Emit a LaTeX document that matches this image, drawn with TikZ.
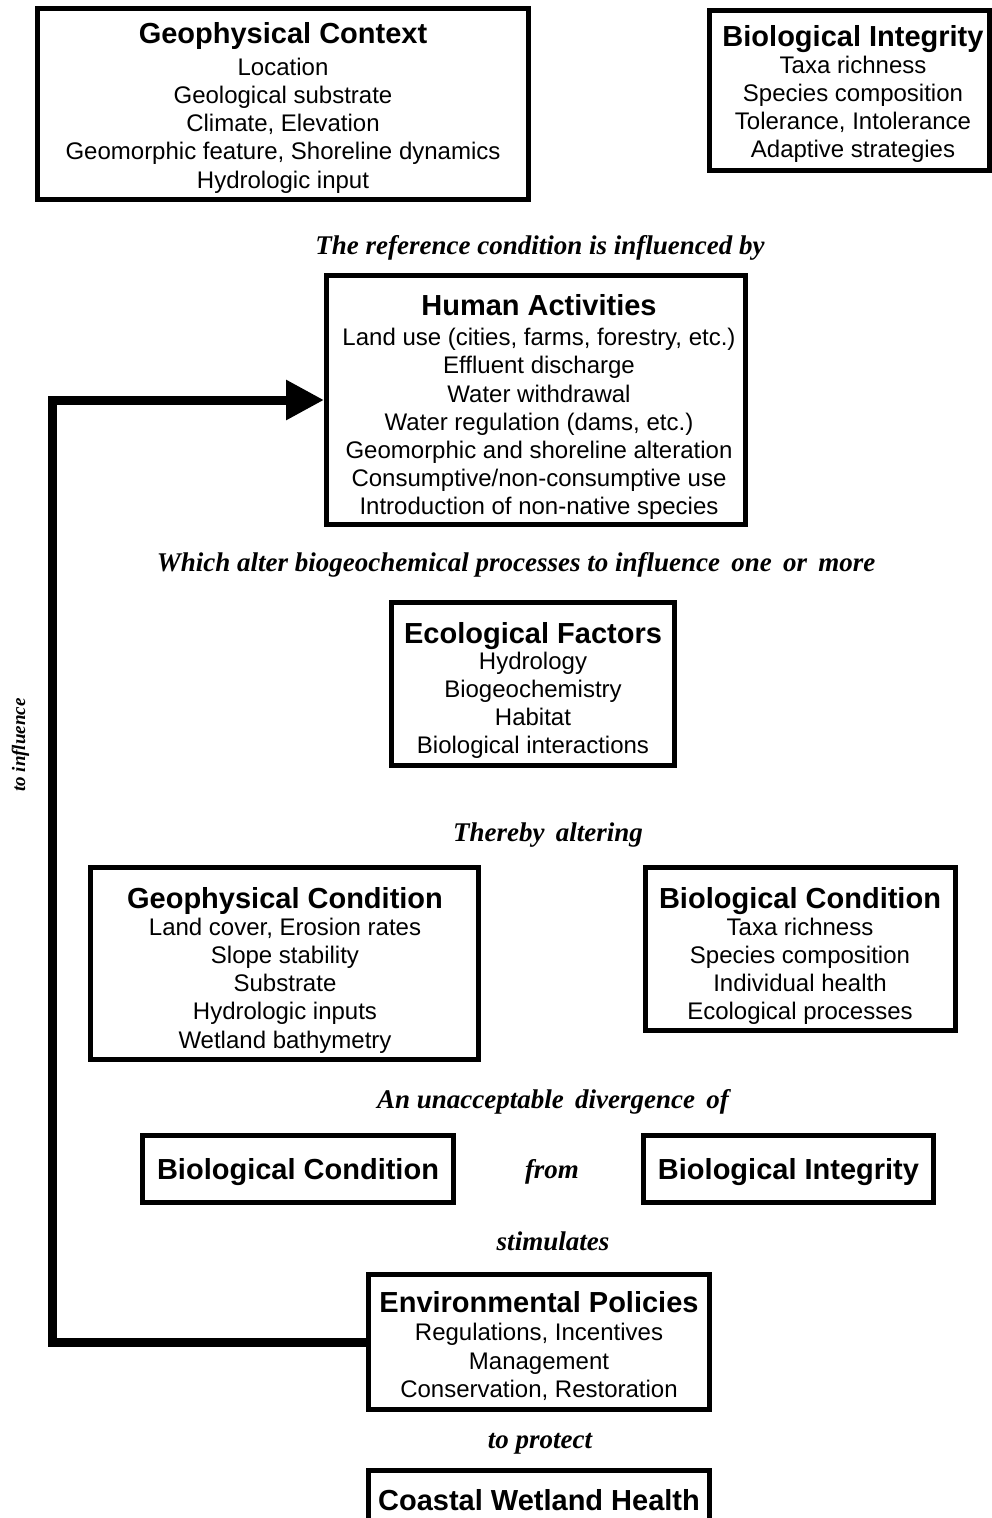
\documentclass[tikz,border=0pt]{standalone}
\usepackage{fontspec}
\setmainfont{Liberation Sans}
\newfontfamily\labfont{Liberation Serif}
\usetikzlibrary{arrows.meta}
\newcommand{\ttl}[1]{{\fontsize{29}{33}\selectfont\bfseries #1}}
\begin{document}
\begin{tikzpicture}[x=1pt,y=-1pt,
  box/.style={draw=black, line width=5pt, inner sep=0pt, fill=white},
  boxtext/.style={anchor=north, inner sep=0pt, align=center, font=\fontsize{24}{28.2}\selectfont},
  smalltext/.style={font=\fontsize{29}{33}\selectfont\bfseries, text depth=0pt},
  lab/.style={anchor=base, inner sep=0pt, font=\labfont\bfseries\itshape\fontsize{27}{30}\selectfont},
  flow/.style={line width=9pt, line join=miter}
]
\useasboundingbox[fill=white] (0,0) rectangle (992,1518);

% Geophysical Context
\node[box, minimum width=491pt, minimum height=191pt] (gctx) at (283,104) {};
\node[boxtext] (gctxt) at (283,22) {\ttl{Geophysical Context}\\[3.8pt]
  Location\\ Geological substrate\\ Climate, Elevation\\
  Geomorphic feature, Shoreline dynamics\\ Hydrologic input};

% Biological Integrity
\node[box, minimum width=280pt, minimum height=160pt] (bint) at (849.5,90.5) {};
\node[boxtext] (bintt) at (853,25) {\ttl{Biological Integrity}\\[-1.2pt]
  Taxa richness\\ Species composition\\ Tolerance, Intolerance\\ Adaptive strategies};

\node[lab] (l1) at (540,254) {The reference condition is influenced by};

% Human Activities
\node[box, minimum width=419pt, minimum height=249pt] (ha) at (536,400) {};
\node[boxtext] (hat) at (539,294.5) {\ttl{Human Activities}\\[1.8pt]
  Land use (cities, farms, forestry, etc.)\\ Effluent discharge\\ Water withdrawal\\
  Water regulation (dams, etc.)\\ Geomorphic and shoreline alteration\\
  Consumptive/non-consumptive use\\ Introduction of non-native species};

\node[lab] (l2) at (516,571) {Which alter biogeochemical processes to influence\, one\, or\, more};

% Ecological Factors
\node[box, minimum width=283pt, minimum height=163pt] (eco) at (533,684) {};
\node[boxtext] (ecot) at (533,622) {\ttl{Ecological Factors}\\[-2.2pt]
  Hydrology\\ Biogeochemistry\\ Habitat\\ Biological interactions};

\node[lab] (l3) at (548,841) {Thereby\, altering};

% Geophysical Condition
\node[box, minimum width=388pt, minimum height=192pt] (gcond) at (284.5,963.5) {};
\node[boxtext] (gcondt) at (285,887) {\ttl{Geophysical Condition}\\[-1.2pt]
  Land cover, Erosion rates\\ Slope stability\\ Substrate\\ Hydrologic inputs\\ Wetland bathymetry};

% Biological Condition
\node[box, minimum width=310pt, minimum height=163pt] (bcond) at (800.5,949) {};
\node[boxtext] (bcondt) at (800,887) {\ttl{Biological Condition}\\[-1.2pt]
  Taxa richness\\ Species composition\\ Individual health\\ Ecological processes};

\node[lab] (l4) at (553,1108) {An unacceptable\, divergence\, of};

% Divergence boxes
\node[box, smalltext, minimum width=311pt, minimum height=67pt] (bcs) at (298,1169) {Biological Condition};
\node[lab] (l5) at (552,1178) {from};
\node[box, smalltext, minimum width=290pt, minimum height=67pt] (bis) at (788.5,1169) {Biological Integrity};

\node[lab] (l6) at (553,1250) {stimulates};

% Environmental Policies
\node[box, minimum width=341pt, minimum height=135pt] (env) at (539,1342) {};
\node[boxtext] (envt) at (539,1291) {\ttl{Environmental Policies}\\[0.5pt]
  Regulations, Incentives\\ Management\\ Conservation, Restoration};

\node[lab] (l7) at (540,1448) {to protect};

% Coastal Wetland Health
\node[box, smalltext, minimum width=341pt, minimum height=59pt] (coast) at (539,1500) {Coastal Wetland Health};

% Feedback arrow
\coordinate (c1) at (52,1342);
\coordinate (c2) at (52,400);
\draw[flow, -{Triangle[length=38pt,width=38pt]}] (env.west) -- (c1) -- (c2) -- (ha.west);
\node[lab, rotate=90, font=\labfont\bfseries\itshape\fontsize{19}{22}\selectfont] (l8) at (25,745) {to influence};
\end{tikzpicture}
\end{document}
